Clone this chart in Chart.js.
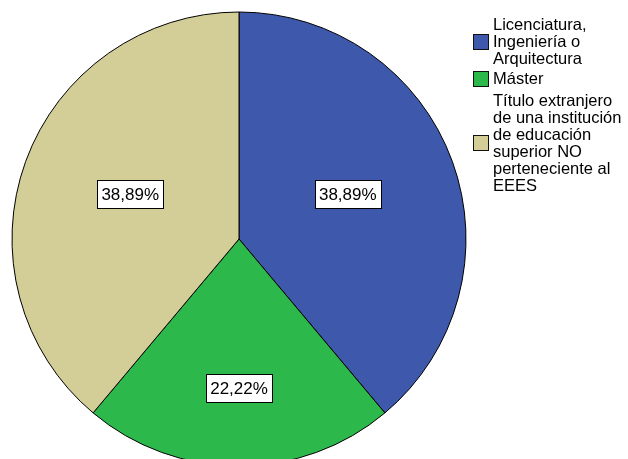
<!DOCTYPE html>
<html>
<head>
<meta charset="utf-8">
<script src="https://cdn.jsdelivr.net/npm/chart.js@4"></script>
<style>
  html, body { margin: 0; padding: 0; background: #fff; overflow: hidden; width: 628px; height: 459px; }
  #wrap { position: absolute; left: 0; top: 0; width: 478px; height: 478px; }
  .legend { position: absolute; left: 473px; top: 0; font-family: "Liberation Sans", Arial, sans-serif; font-size: 16.5px; line-height: 17px; color: #000; }
  .item { position: absolute; left: 0; width: 160px; }
  .box { position: absolute; left: 0; width: 14px; height: 14px; border: 1px solid #111; }
  .txt { position: absolute; left: 20px; white-space: nowrap; }
</style>
</head>
<body>
<div id="wrap"><canvas id="myChart" width="478" height="478"></canvas></div>
<div class="legend" id="legend"></div>
<script>
const categories = [
    ["Licenciatura,", "Ingeniería o", "Arquitectura"],
    ["Máster"],
    ["Título extranjero", "de una institución", "de educación", "superior NO", "perteneciente al", "EEES"]
];
const percentages = [38.89, 22.22, 38.89];
const colours = ['#3e58ac', '#2db84c', '#d3ce97'];
// how far out each label sits (fraction of radius)
const labelRadius = [0.51, 0.68, 0.51];
// legend text block tops
const legendTops = [16, 70, 92];

// legend in html
var legend = document.getElementById('legend');
categories.forEach(function (lines, i) {
    var item = document.createElement('div');
    item.className = 'item';
    item.style.top = legendTops[i] + 'px';
    var txt = document.createElement('div');
    txt.className = 'txt';
    txt.innerHTML = lines.join('<br>');
    var box = document.createElement('div');
    box.className = 'box';
    box.style.background = colours[i];
    box.style.top = (lines.length * 17 / 2 - 8) + 'px';
    item.appendChild(box);
    item.appendChild(txt);
    legend.appendChild(item);
});

const labelPlugin = {
    id: 'pctLabels',
    afterDatasetsDraw(chart) {
        var ctx = chart.ctx;
        var meta = chart.getDatasetMeta(0);
        ctx.save();
        ctx.font = '17px "Liberation Sans", Arial, sans-serif';
        ctx.textAlign = 'center';
        ctx.textBaseline = 'middle';
        meta.data.forEach(function (arc, i) {
            var mid = (arc.startAngle + arc.endAngle) / 2;
            var r = arc.outerRadius * labelRadius[i];
            var x = arc.x + Math.cos(mid) * r;
            var y = arc.y + Math.sin(mid) * r - 5;
            var text = percentages[i].toFixed(2).replace('.', ',') + '%';
            var w = Math.round(ctx.measureText(text).width + 8);
            var h = 28;
            var bx = Math.round(x - w / 2) + 0.5, by = Math.round(y - h / 2) + 0.5;
            ctx.fillStyle = '#fff';
            ctx.fillRect(bx, by, w, h);
            ctx.strokeStyle = '#000';
            ctx.lineWidth = 1;
            ctx.strokeRect(bx, by, w, h);
            ctx.fillStyle = '#000';
            ctx.fillText(text, x, y + 1);
        });
        ctx.restore();
    }
};

var ctx = document.getElementById('myChart').getContext('2d');
var chart = new Chart(ctx, {
    type: 'pie',
    data: {
        labels: categories.map(function (l) { return l.join(' '); }),
        datasets: [{
            data: percentages,
            backgroundColor: colours,
            borderColor: '#000',
            borderWidth: 1,
            radius: 227
        }]
    },
    options: {
        responsive: false,
        animation: false,
        layout: { padding: 0 },
        plugins: {
            legend: { display: false },
            tooltip: { enabled: false }
        }
    },
    plugins: [labelPlugin]
});
</script>
</body>
</html>
